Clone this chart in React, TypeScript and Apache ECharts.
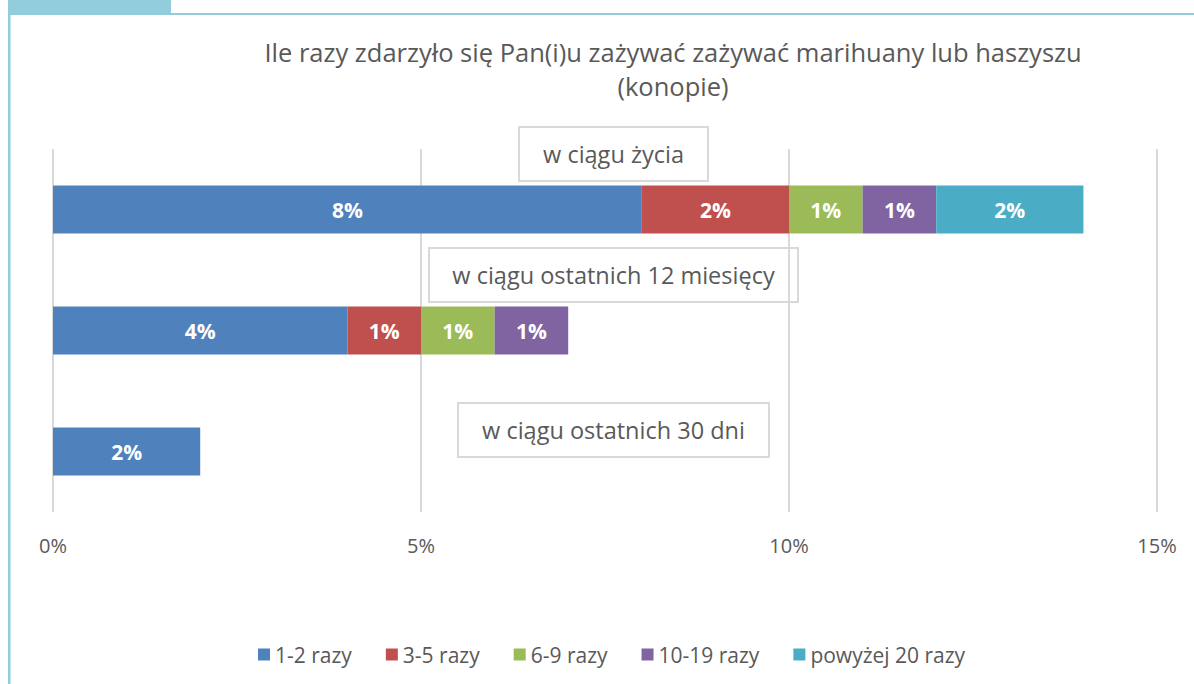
import React, { useEffect, useRef } from "react";
import * as echarts from "echarts";

const categories = ["w ciągu życia", "w ciągu ostatnich 12 miesięcy", "w ciągu ostatnich 30 dni"];
const seriesNames = ["1-2 razy", "3-5 razy", "6-9 razy", "10-19 razy", "powyżej 20 razy"];
const s12 = [8, 4, 2];
const s35 = [2, 1, null];
const s69 = [1, 1, null];
const s1019 = [1, 1, null];
const s20 = [2, null, null];
const colors = ["#4F81BD", "#C0504D", "#9BBB59", "#8064A2", "#4BACC6"];
const xTicks = { min: 0, max: 15, interval: 5 };
const titleText = "Ile razy zdarzyło się Pan(i)u zażywać zażywać marihuany lub haszyszu\n(konopie)";

const FONT = "'Open Sans', sans-serif";
const GREY = "#595959";

const boxSpecs = [
  { cx: 613.5, cy: 154, w: 189 },
  { cx: 613.5, cy: 275, w: 369 },
  { cx: 613.5, cy: 430, w: 311 },
];

export default function App() {
  const ref = useRef<HTMLDivElement>(null);
  useEffect(() => {
    const chart = echarts.init(ref.current!, null, { renderer: "svg" });
    const all = [s12, s35, s69, s1019, s20];
    const series = all.map((d, i) => ({
      name: seriesNames[i],
      type: "bar",
      stack: "total",
      barWidth: 48,
      data: d,
      itemStyle: { color: colors[i] },
      label: {
        show: true,
        position: "inside",
        formatter: (p: any) => (p.value == null ? "" : p.value + "%"),
        color: "#ffffff",
        fontWeight: "bold",
        fontSize: 21,
        fontFamily: FONT,
      },
    }));
    const graphic: any[] = [
      { type: "rect", shape: { x: 8, y: 0, width: 163, height: 15 }, style: { fill: "#92CDDC" }, silent: true },
      { type: "rect", shape: { x: 8, y: 13, width: 1186, height: 2 }, style: { fill: "#92CDDC" }, silent: true },
      { type: "rect", shape: { x: 8, y: 13, width: 2.5, height: 671 }, style: { fill: "#92CDDC" }, silent: true },
    ];
    categories.forEach((c, i) => {
      const b = boxSpecs[i];
      graphic.push({
        type: "group",
        z: 100,
        children: [
          {
            type: "rect",
            shape: { x: b.cx - b.w / 2, y: b.cy - 27, width: b.w, height: 54 },
            style: { fill: "#ffffff", stroke: "#D9D9D9", lineWidth: 2 },
          },
          {
            type: "text",
            x: b.cx,
            y: b.cy,
            style: {
              text: c,
              fill: GREY,
              fontSize: 23.5,
              fontFamily: FONT,
              align: "center",
              verticalAlign: "middle",
            },
          },
        ],
      });
    });
    chart.setOption({
      animation: false,
      title: {
        text: titleText,
        left: 668,
        top: 30,
        textAlign: "center",
        textStyle: { color: GREY, fontSize: 25.5, fontWeight: "normal", fontFamily: FONT, lineHeight: 34 },
      },
      legend: {
        bottom: 14,
        left: 253,
        itemWidth: 12,
        itemHeight: 12,
        itemGap: 34,
        icon: "rect",
        textStyle: { color: GREY, fontSize: 21, fontFamily: FONT },
        data: seriesNames,
      },
      grid: { left: 53, right: 37, top: 149, bottom: 172 },
      xAxis: {
        type: "value",
        min: xTicks.min,
        max: xTicks.max,
        interval: xTicks.interval,
        axisLine: { show: false },
        axisTick: { show: false },
        splitLine: { lineStyle: { color: "#D9D9D9", width: 2 } },
        axisLabel: { formatter: "{value}%", color: GREY, fontSize: 20, fontFamily: FONT, margin: 23 },
      },
      yAxis: {
        type: "category",
        data: categories,
        inverse: true,
        axisLine: { show: false },
        axisTick: { show: false },
        axisLabel: { show: false },
      },
      series,
      graphic,
    });
    return () => chart.dispose();
  }, []);
  return (
    <div
      ref={ref}
      style={{ position: "absolute", left: 0, top: 0, width: 1194, height: 684, background: "#fff" }}
    />
  );
}
